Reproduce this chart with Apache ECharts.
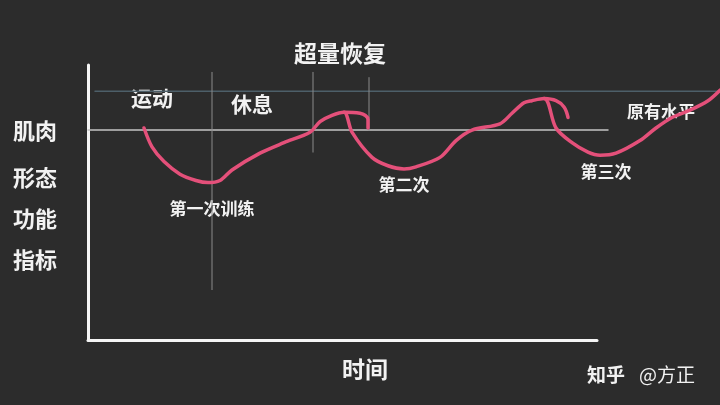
<!DOCTYPE html>
<html><head><meta charset="utf-8">
<script src="https://cdn.jsdelivr.net/npm/echarts@6/dist/echarts.min.js"></script>
<style>html,body{margin:0;padding:0;background:#2c2c2c}#c{width:720px;height:405px}</style>
</head><body><div id="c"></div>
<script>
// time (x) vs. muscle function index (y); original level = 100
const curveMain = [[14,101],[16,92],[19,85],[23,79],[27,76],[30,75],[33,76],[36,81],[43,89],[49,94],[55.5,99],[58,104],[61,107],[64,108.5],[66,99],[71,87],[75,83],[79,81.5],[82,82.5],[88,87],[92,95],[96,100],[103,103],[106,108],[109,113],[111,114],[114,115],[115,113],[117,101],[121,94],[125,89.5],[128,88],[132,89],[138,95],[142,101],[146,106],[150.5,109.5],[155,114],[158,119]];
const hookFirst = [[64,108.5],[68,108],[70,105],[70,101]];
const hookSecond = [[114,115],[117,114],[119,111],[120,106]];
const levelLine = [[0,100],[130,100]];
const upperLine = [[1.75,118.5],[158,118.5]];
const phaseLine1 = [[31,24],[31,127.5]];
const phaseLine2 = [[56.25,89.5],[56.25,127.5]];
const phaseLine3 = [[70.25,100],[70.25,125]];
const yNameLines = ['肌肉','形态','功能','指标'];
const xName = '时间';

const chart = echarts.init(document.getElementById('c'), null, {renderer:'canvas'});
const F = '"Noto Sans CJK SC", sans-serif';
const txt = (t, x, y, size, weight) => ({
  type:'text', x:x, y:y,
  style:{text:t, fill:'#f2f2f2', font:(weight||'bold')+' '+size+'px '+F, textAlign:'center', textVerticalAlign:'middle'}
});
function seg(data, color, width, z){
  return {type:'line', xAxisIndex:1, yAxisIndex:1, data:data, showSymbol:false, symbol:'none',
    lineStyle:{color:color, width:width, cap:'round', join:'round'}, z:z||2, silent:true, clip:false, animation:false};
}
const option = {
  backgroundColor:'#2c2c2c',
  animation:false,
  grid:[
    {left:88, top:65, width:509, height:275},
    {left:88, top:65, width:632, height:275}
  ],
  xAxis:[
    {gridIndex:0, type:'value', min:0, max:127.25, axisLine:{show:true, lineStyle:{color:'#f5f5f5', width:3}}, axisTick:{show:false}, axisLabel:{show:false}, splitLine:{show:false}},
    {gridIndex:1, type:'value', min:0, max:158, show:false}
  ],
  yAxis:[
    {gridIndex:0, type:'value', min:0, max:131, axisLine:{show:true, lineStyle:{color:'#f5f5f5', width:3}}, axisTick:{show:false}, axisLabel:{show:false}, splitLine:{show:false}},
    {gridIndex:1, type:'value', min:0, max:131, show:false}
  ],
  series:[
    seg(upperLine, '#4d5f69', 1.5, 1),
    seg(levelLine, '#c4c4c4', 1.5, 1),
    seg(phaseLine1, '#8a8a8a', 1, 1),
    seg(phaseLine2, '#8a8a8a', 1, 1),
    seg(phaseLine3, '#8a8a8a', 1, 1),
    Object.assign(seg(curveMain, '#e4507a', 3.5, 3), {smooth:0.3}),
    Object.assign(seg(hookFirst, '#e4507a', 3.5, 3), {smooth:0.4}),
    Object.assign(seg(hookSecond, '#e4507a', 3.5, 3), {smooth:0.4})
  ],
  graphic:[
    txt('超量恢复', 340, 53, 23),
    txt('运动', 152, 98, 21),
    txt('休息', 252, 104, 21),
    txt('第一次训练', 212, 209, 17),
    txt('第二次', 404, 185, 17),
    txt('第三次', 606, 172, 17),
    txt('原有水平', 661, 112, 17),
    txt(yNameLines[0], 35, 131, 22),
    txt(yNameLines[1], 35, 178, 22),
    txt(yNameLines[2], 35, 219, 22),
    txt(yNameLines[3], 35, 260, 22),
    txt(xName, 365, 369, 23),
    txt('知乎', 606, 375, 19),
    txt('@方正', 667, 375, 19, 'normal')
  ]
};
chart.setOption(option);
</script></body></html>
